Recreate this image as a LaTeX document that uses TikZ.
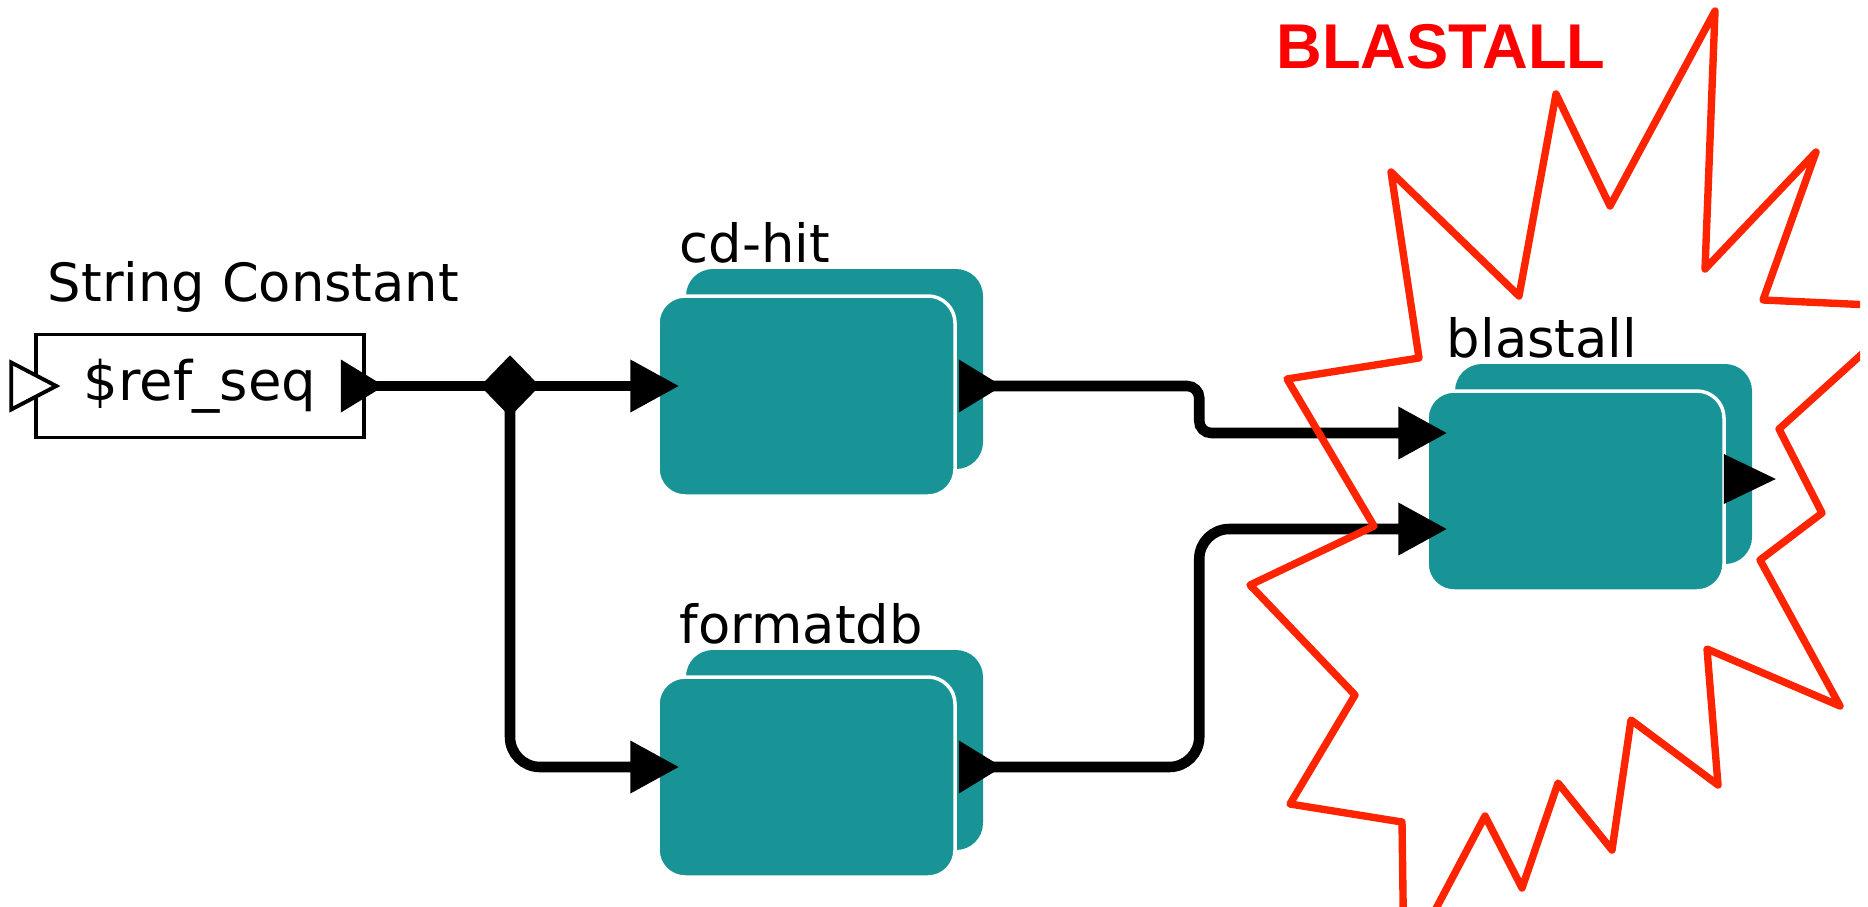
\documentclass[tikz,border=0pt]{standalone}
\usepackage{fontspec}
\usepackage{tikz}
\usetikzlibrary{arrows.meta,positioning,shapes.geometric,shadows}

\newfontfamily\uifont{DejaVu Sans}
\newfontfamily\bannerfont{Liberation Sans}

\definecolor{actorteal}{RGB}{24,148,150}
\definecolor{burstred}{RGB}{255,36,0}

\begin{document}
\begin{tikzpicture}[
			inport/.tip={Triangle[length=4.9mm,width=5mm]},
			outport/.tip={Triangle[reversed,length=4.4mm,width=5mm]},
			title/.style={
				font=\uifont\fontsize{15}{18}\selectfont,
				inner sep=0pt
			},
			constbox/.style={
				draw=black,
				line width=1pt,
				minimum width=3.28cm,
				minimum height=1.03cm,
				font=\uifont\fontsize{15.5}{18}\selectfont
			},
			actor/.style={
				rounded corners=0.27cm,
				fill=actorteal,
				draw=white,
				line width=1pt,
				minimum width=2.97cm,
				minimum height=2cm,
				copy shadow={shadow xshift=0.28cm,shadow yshift=0.27cm,
					fill=actorteal,draw=none}
			},
			junction/.style={
				diamond,
				fill=black,
				inner sep=0pt,
				minimum width=0.6cm,
				minimum height=0.62cm
			},
			wire/.style={
				draw=black,
				line width=3pt
			},
			banner/.style={
				font=\bannerfont\bfseries\fontsize{18}{20}\selectfont,
				text=red
			},
			burst/.style={
				draw=burstred,
				line width=2.1pt,
				line join=round
			}
			]
			\useasboundingbox (0,0) rectangle (18.68,-9.06);

			% 左侧：字符串常量和分叉点
			\node[constbox] (sref) at (2.00,-3.86) {\$ref\_seq};
			\node[title,above right=0.31cm and 0.13cm of sref.north west,anchor=base west]
			{String Constant};
			\node[junction] (fork) at (5.10,-3.86) {};

			% 中间和右侧的三个处理模块
			\node[actor] (cdhit) at (8.065,-3.96) {};
			\node[actor] (fmtdb) at (8.065,-7.77) {};
			\node[actor] (blast) at (15.755,-4.91) {};

			\node[title,above right=0.32cm and 0.23cm of cdhit.north west,anchor=base west] {cd-hit};
			\node[title,above right=0.32cm and 0.23cm of fmtdb.north west,anchor=base west] {formatdb};
			\node[title,above right=0.32cm and 0.21cm of blast.north west,anchor=base west] {blastall};

			% 端口位置
			\coordinate (sref-in) at ([xshift=-0.23cm]sref.west);
			\coordinate (sref-out) at ([xshift=-0.25cm]sref.east);
			\coordinate (cdhit-in) at ([shift={(0.23,0.10)}]cdhit.west);
			\coordinate (cdhit-out) at ([shift={(0.02,0.10)}]cdhit.east);
			\coordinate (fmtdb-in) at ([shift={(0.23,0.10)}]fmtdb.west);
			\coordinate (fmtdb-out) at ([shift={(0.02,0.10)}]fmtdb.east);
			\coordinate (blast-in1) at ([shift={(0.22,0.58)}]blast.west);
			\coordinate (blast-in2) at ([shift={(0.22,-0.38)}]blast.west);
			\coordinate (blast-out) at ([shift={(-0.02,0.12)}]blast.east);

			\draw[line width=1.1pt,fill=white] ([yshift=0.235cm]sref-in) -- ([xshift=0.45cm]sref-in)
			-- ([yshift=-0.235cm]sref-in) -- cycle;
			\fill ([yshift=0.25cm]blast-out) -- ([xshift=0.52cm]blast-out)
			-- ([yshift=-0.25cm]blast-out) -- cycle;

			% 连线
			\draw[wire,outport-] (sref-out) -- (fork.center);
			\draw[wire,-inport] (fork.center) -- (cdhit-in);
			\draw[wire,-inport,rounded corners=0.3cm] (fork.center) |- (fmtdb-in);
			\draw[wire,outport-inport,rounded corners=0.12cm]
			(cdhit-out) -| ([xshift=-2.48cm]blast-in1) -- (blast-in1);
			\draw[wire,outport-inport,rounded corners=0.3cm]
			(fmtdb-out) -| ([xshift=-2.48cm]blast-in2) -- (blast-in2);

			% 红色爆炸框和标题
			\node[banner] (head) at (14.41,-0.465) {BLASTALL};
			\begin{scope}
				\clip (0,0) rectangle (18.60,-9.06);
				\draw[burst] (13.91,-1.72) -- (15.19,-2.96) -- (15.56,-0.94) -- (16.10,-2.06)
				-- (17.15,-0.11) -- (17.05,-2.69) -- (18.16,-1.52) -- (17.63,-3.00)
				-- (19.14,-3.07) -- (17.79,-4.29) -- (18.22,-5.13) -- (17.60,-5.60)
				-- (18.40,-7.06) -- (17.07,-6.49) -- (17.18,-7.85) -- (16.31,-7.20)
				-- (16.12,-8.50) -- (15.58,-7.83) -- (15.22,-8.88) -- (14.85,-8.16)
				-- (14.04,-9.69) -- (14.02,-8.22) -- (12.90,-8.04) -- (13.55,-6.95)
				-- (12.50,-5.85) -- (13.74,-5.26) -- (12.87,-3.79) -- (14.19,-3.58) -- cycle;
			\end{scope}

\end{tikzpicture}
\end{document}
